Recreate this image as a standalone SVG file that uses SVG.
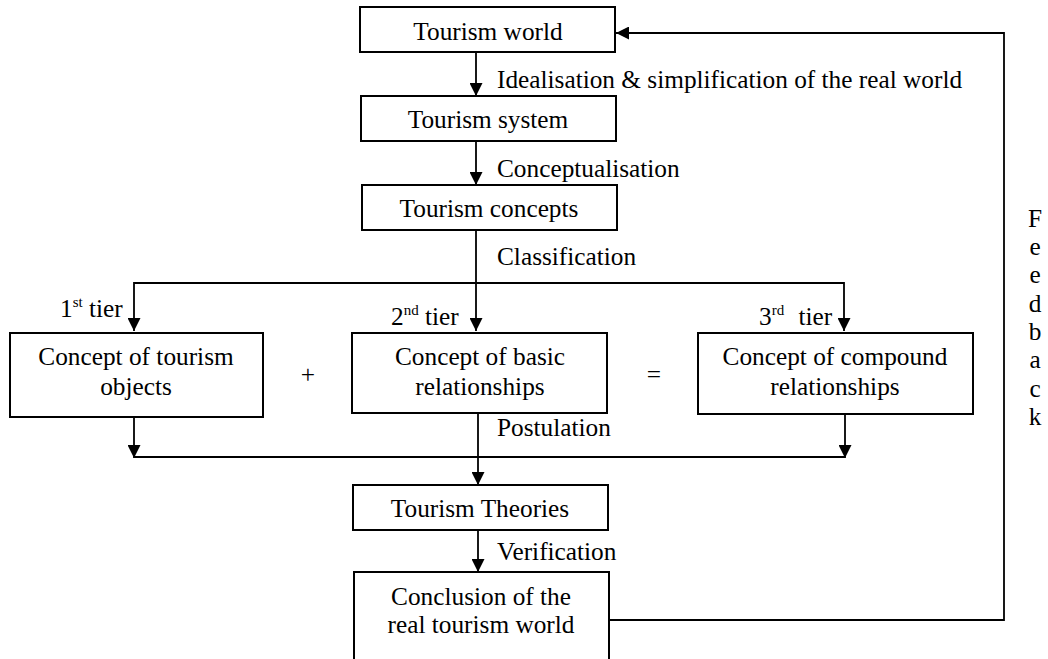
<svg xmlns="http://www.w3.org/2000/svg" width="1048" height="659" viewBox="0 0 1048 659">
<style>
.box{fill:#fff;stroke:#000;stroke-width:2}
.t{font-family:"Liberation Serif","Times New Roman",serif;font-size:25.3px;fill:#000}
.c{text-anchor:middle}
.ln{fill:none;stroke:#000;stroke-width:1.8}
.sup{font-size:15px}
</style>
<defs>
<marker id="ah" viewBox="0 0 10 10" refX="10" refY="5" markerWidth="14" markerHeight="13" markerUnits="userSpaceOnUse" orient="auto">
<path d="M0,0 L10,5 L0,10 z" fill="#000"/>
</marker>
</defs>
<rect width="1048" height="659" fill="#fff"/>
<g id="connectors">
<path class="ln" d="M476,52 V96" marker-end="url(#ah)"/>
<path class="ln" d="M476,141 V185" marker-end="url(#ah)"/>
<path class="ln" d="M476,230 V331" marker-end="url(#ah)"/>
<path class="ln" d="M476,283 H134 V331" marker-end="url(#ah)"/>
<path class="ln" d="M476,283 H844 V331" marker-end="url(#ah)"/>
<path class="ln" d="M134,417 V458" marker-end="url(#ah)"/>
<path class="ln" d="M845,414 V458" marker-end="url(#ah)"/>
<path class="ln" d="M134,457 H845"/>
<path class="ln" d="M478,413 V485" marker-end="url(#ah)"/>
<path class="ln" d="M478,530 V572" marker-end="url(#ah)"/>
<path class="ln" d="M609,620 H1004 V33 H616" marker-end="url(#ah)"/>
</g>
<g id="labels">
<text class="t" x="497" y="88">Idealisation &amp; simplification of the real world</text>
<text class="t" x="497" y="177">Conceptualisation</text>
<text class="t" x="497" y="265">Classification</text>
<text class="t" x="497" y="436">Postulation</text>
<text class="t" x="497" y="560">Verification</text>
<text class="t" x="60" y="317">1<tspan class="sup" dy="-10">st</tspan><tspan dy="10"> tier</tspan></text>
<text class="t" x="391" y="325">2<tspan class="sup" dy="-10">nd</tspan><tspan dy="10"> tier</tspan></text>
<text class="t" x="759" y="325">3<tspan class="sup" dy="-10">rd</tspan><tspan dy="10" dx="8"> tier</tspan></text>
<text class="t c" x="308" y="383">+</text>
<text class="t c" x="654" y="383">=</text>
</g>
<g id="feedback" class="t c">
<text class="t c" x="1035" y="227">F</text>
<text class="t c" x="1035" y="255">e</text>
<text class="t c" x="1035" y="283">e</text>
<text class="t c" x="1035" y="312">d</text>
<text class="t c" x="1035" y="340">b</text>
<text class="t c" x="1035" y="368">a</text>
<text class="t c" x="1035" y="397">c</text>
<text class="t c" x="1035" y="425">k</text>
</g>
<g id="tourism-world">
<rect class="box" x="360" y="7" width="255" height="45"/>
<text class="t c" x="488" y="40">Tourism world</text>
</g>
<g id="tourism-system">
<rect class="box" x="361" y="96" width="255" height="45"/>
<text class="t c" x="488" y="128">Tourism system</text>
</g>
<g id="tourism-concepts">
<rect class="box" x="362" y="185" width="255" height="45"/>
<text class="t c" x="489" y="217">Tourism concepts</text>
</g>
<g id="tourism-objects">
<rect class="box" x="10" y="333" width="253" height="84"/>
<text class="t c" x="136" y="365">Concept of tourism</text>
<text class="t c" x="136" y="395">objects</text>
</g>
<g id="basic-relationships">
<rect class="box" x="352" y="333" width="255" height="80"/>
<text class="t c" x="480" y="365">Concept of basic</text>
<text class="t c" x="480" y="395">relationships</text>
</g>
<g id="compound-relationships">
<rect class="box" x="698" y="333" width="275" height="81"/>
<text class="t c" x="835" y="365">Concept of compound</text>
<text class="t c" x="835" y="395">relationships</text>
</g>
<g id="tourism-theories">
<rect class="box" x="353" y="485" width="255" height="45"/>
<text class="t c" x="480" y="517">Tourism Theories</text>
</g>
<g id="conclusion">
<rect class="box" x="354" y="572" width="255" height="100"/>
<text class="t c" x="481" y="605">Conclusion of the</text>
<text class="t c" x="481" y="633">real tourism world</text>
</g>
</svg>
